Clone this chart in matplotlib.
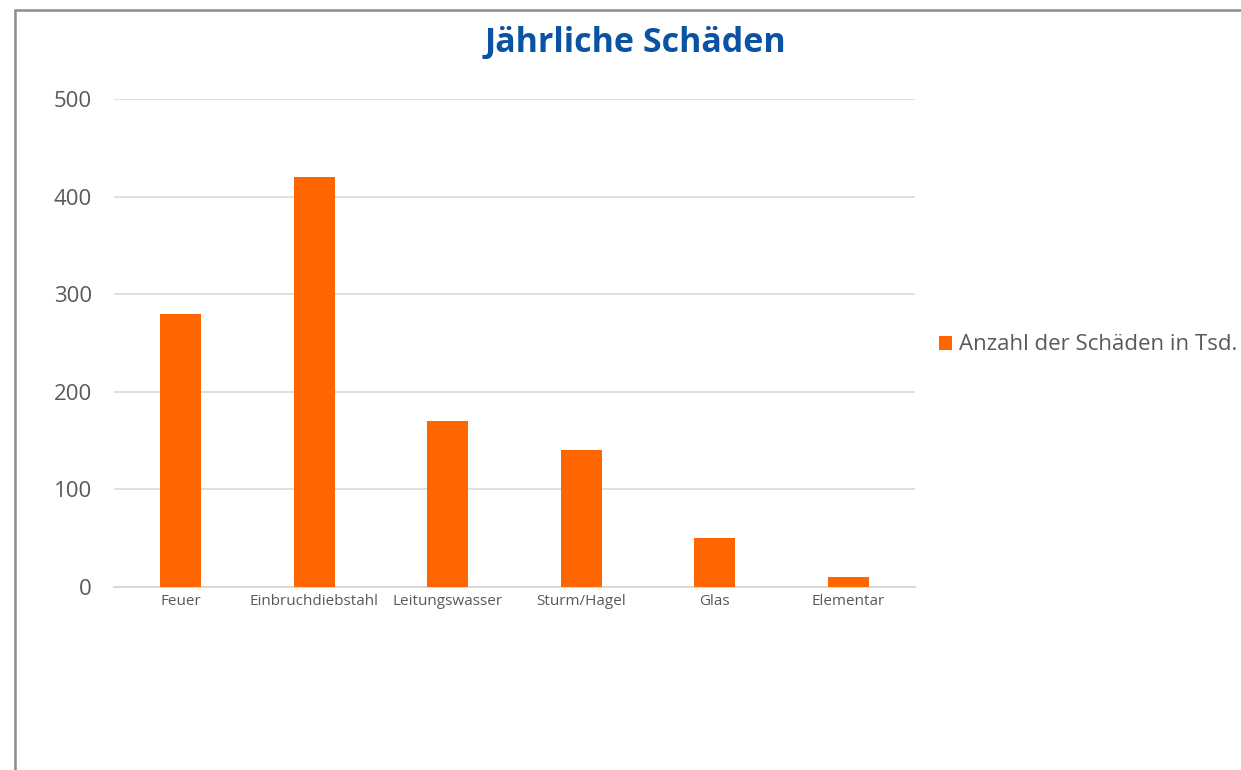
import matplotlib.pyplot as plt
from matplotlib.patches import Rectangle

# --- Daten ---
kategorien = ["Feuer", "Einbruchdiebstahl", "Leitungswasser", "Sturm/Hagel", "Glas", "Elementar"]
schaeden = [280, 420, 170, 140, 50, 10]
serie = "Anzahl der Schäden in Tsd."
titel = "Jährliche Schäden"
y_ticks = [0, 100, 200, 300, 400, 500]

plt.rcParams["font.family"] = ["Open Sans", "DejaVu Sans"]
grau = "#595959"

fig = plt.figure(figsize=(12.41, 7.70), dpi=100)
ax = fig.add_axes([114 / 1241, 1 - 587 / 770, 801 / 1241, 488 / 770])

ax.bar(kategorien, schaeden, width=0.31, color="#FF6600", label=serie, zorder=3)
ax.set_xlim(-0.5, len(kategorien) - 0.5)
ax.set_ylim(0, 500)
ax.set_yticks(y_ticks)
ax.grid(axis="y", color="#D9D9D9", linewidth=1.2, zorder=0)

for s in ["top", "right", "left"]:
    ax.spines[s].set_visible(False)
ax.spines["bottom"].set_color("#D9D9D9")
ax.spines["bottom"].set_linewidth(1.5)

ax.tick_params(axis="y", length=0, pad=16, labelsize=16, labelcolor=grau)
ax.tick_params(axis="x", length=0, pad=5, labelsize=11, labelcolor=grau)

fig.text(635 / 1241, 1 - 43 / 770, titel, ha="center", va="center",
         fontsize=24.5, fontweight="bold", color="#0A52A2")

ax.legend(loc="center left", bbox_to_anchor=(939 / 1241, 1 - 345 / 770),
          bbox_transform=fig.transFigure, frameon=False, borderpad=0,
          borderaxespad=0, handlelength=0.6, handleheight=0.6,
          handletextpad=0.3, fontsize=16, labelcolor=grau)

# Rahmen
fig.patches.append(Rectangle((15 / 1241, -0.1), 1.2, 1 - 10 / 770 + 0.1,
                             transform=fig.transFigure, fill=False,
                             edgecolor="#8C8C8C", linewidth=1.8))

fig.savefig("out.png", dpi=100)
